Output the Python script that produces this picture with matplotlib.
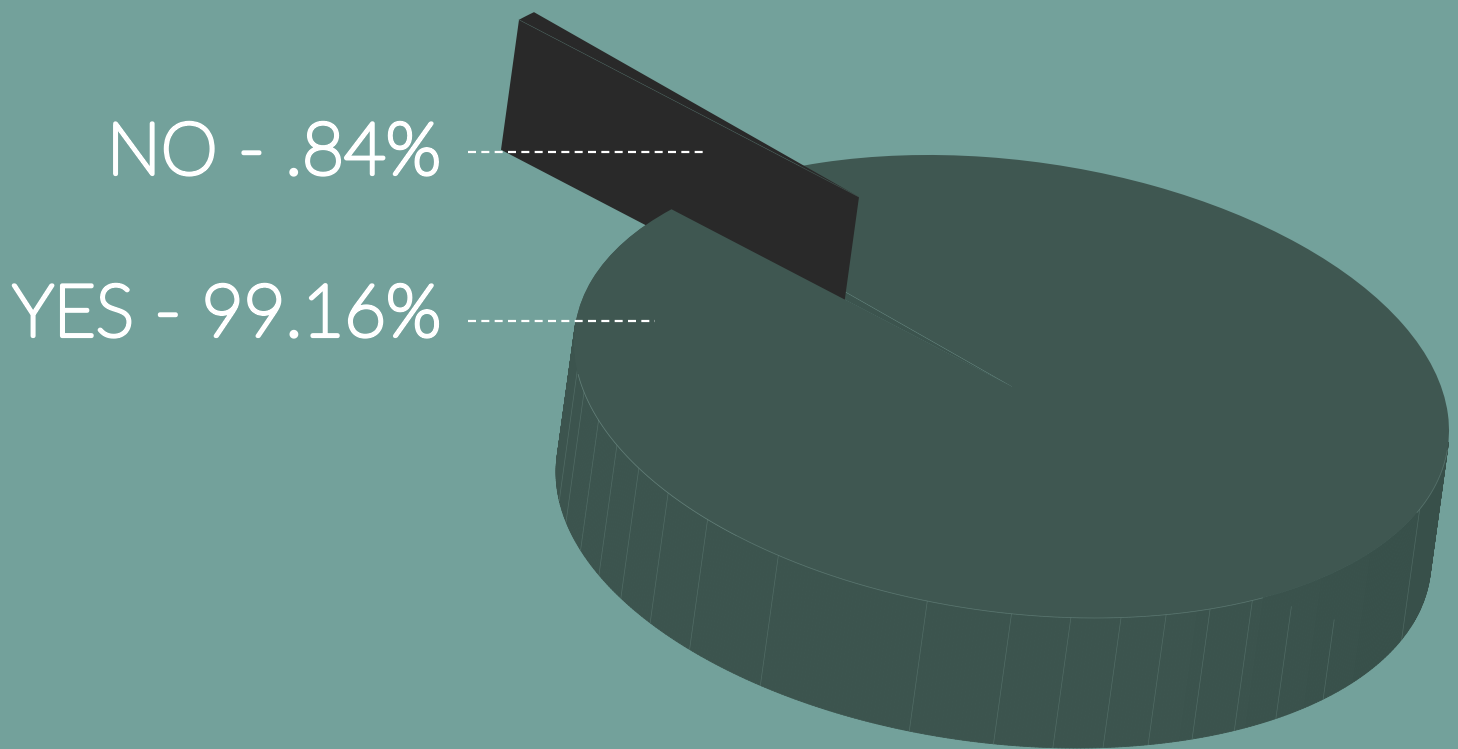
import numpy as np
import matplotlib
matplotlib.use('Agg')
import matplotlib.pyplot as plt
import matplotlib.patheffects as pe
from matplotlib.collections import PolyCollection
from matplotlib.colors import to_rgb
from matplotlib.patches import Polygon, Wedge
from matplotlib.transforms import Affine2D

labels = ['NO', 'YES']
shares = [0.84, 99.16]

# where the thin seams sit on the rim (degrees) and how far down they start
facet_angles = [173.0, 167.7, 160.7, 154.4, 148.4, 141.7, 134.0, 122.2, 101.1,
                90.0, 82.2, 75.5, 69.3, 63.0, 56.6, 49.8, 41.1, 21.1]
facet_starts = [0, 0, 0, 0, 0, 0, 0, 0, 0,
                0, 0, 0, 0, 0, 0, 0.14, 0.39, 0]

bg = '#73a19b'
top_col = '#3f5751'
no_col = '#292929'
seam_col = '#7f9f98'

fig = plt.figure(figsize=(14.58, 7.49), dpi=100, facecolor=bg)
ax = fig.add_axes([0, 0, 1, 1])
ax.set_xlim(0, 1458)
ax.set_ylim(749, 0)
ax.axis('off')

# tilted disc: unit circle -> page, plus the extrusion and the pulled out slice
disc = Affine2D.from_values(437.5, 44, 0, 227.3, 1011.5, 386.5)
depth = np.array([-18, 130])
pull = np.array([-152.5, -189.5])
start = 219.0
no_sweep = shares[0] * 3.6
yes_sweep = shares[1] * 3.6


def rim(theta):
    t = np.radians(theta)
    return disc.transform(np.column_stack([np.cos(t), np.sin(t)]))


# side wall, built from short quads so the shade can drift along the rim
left_rgb = np.array(to_rgb('#3c544e'))
right_rgb = np.array(to_rgb('#38504a'))
th = np.linspace(3, 186, 367)
pts = rim(th)
quads = [[pts[i], pts[i + 1], pts[i + 1] + depth, pts[i] + depth] for i in range(len(th) - 1)]
f = np.clip(((th[:-1] + th[1:]) / 2 - 30) / 40, 0, 1)[:, None]
cols = right_rgb + (left_rgb - right_rgb) * f
ax.add_collection(PolyCollection(quads, facecolors=cols, edgecolors=cols, linewidths=0.6, zorder=1))

for a, s in zip(facet_angles, facet_starts):
    p = rim(np.array([a]))[0]
    ax.plot([p[0] + depth[0] * s, p[0] + depth[0]], [p[1] + depth[1] * s, p[1] + depth[1]],
            color=seam_col, lw=0.5, alpha=0.32, zorder=1)

# gap left behind by the slice, then the big top face
ax.add_patch(Wedge((0, 0), 1, start, start + no_sweep, transform=disc + ax.transData,
                   facecolor='#3c544e', edgecolor='none', zorder=1))
ax.add_patch(Wedge((0, 0), 1, start + no_sweep, start + no_sweep + yes_sweep,
                   transform=disc + ax.transData, facecolor=top_col, edgecolor='none', zorder=1))

# rim highlight on the front edge
for a0, a1 in [(172, 55), (22, 5)]:
    arc = rim(np.linspace(a0, a1, 200))
    ax.plot(arc[:, 0], arc[:, 1], color=seam_col, lw=0.6, alpha=0.38, zorder=1)

centre = disc.transform([[0, 0]])[0]
edge = rim(np.array([start + no_sweep]))[0]
ax.plot([centre[0], edge[0]], [centre[1], edge[1]], color=seam_col, lw=0.5, alpha=0.35, zorder=1)

# pulled out slice: radial wall and its thin top
corner_a = rim(np.array([start]))[0] + pull
tip = centre + pull
ax.add_patch(Polygon([corner_a, tip, tip + depth, corner_a + depth], closed=True,
                     facecolor=no_col, edgecolor='none', zorder=1))
ax.add_patch(Wedge((0, 0), 1, start, start + no_sweep,
                   transform=disc + Affine2D().translate(*pull) + ax.transData,
                   facecolor=no_col, edgecolor='none', zorder=1))
ax.plot([corner_a[0], tip[0]], [corner_a[1], tip[1]], color='#4a5f5a', lw=0.5, alpha=0.6, zorder=1)

# the front part of the top face sits over the slice wall
ax.add_patch(Wedge((0, 0), 1, start - 90, start, transform=disc + ax.transData,
                   facecolor=top_col, edgecolor='none', zorder=1))
arc = rim(np.linspace(172, 129, 80))
ax.plot(arc[:, 0], arc[:, 1], color=seam_col, lw=0.6, alpha=0.38, zorder=1)

# labels and their dashed leaders
for name, val, base, y, x1 in zip(labels, shares, [174, 336], [151.5, 320.5], [706, 655]):
    txt = f'{val:.2f}'.lstrip('0')
    ax.text(441, base, f'{name} - {txt}%', ha='right', va='baseline', color='white',
            fontsize=52, family='Lato', fontweight='light', zorder=3,
            path_effects=[pe.withStroke(linewidth=3.0, foreground='white')])
    ax.plot([468, x1], [y, y], color='white', lw=1.6, dashes=(3.6, 2.4), dash_capstyle='butt', zorder=2)

fig.savefig('out.png', dpi=100, facecolor=bg)
